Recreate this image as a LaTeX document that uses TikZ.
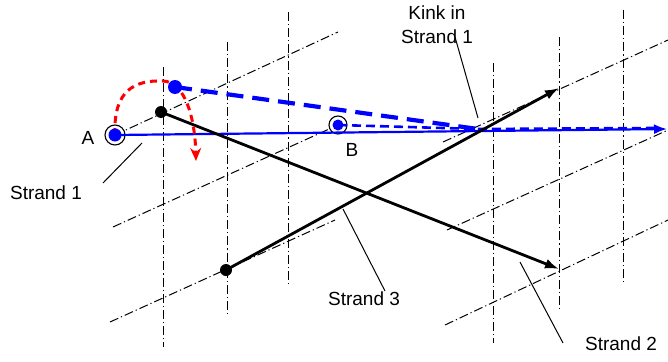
\documentclass[tikz,border=0pt]{standalone}
\usepackage{fontspec}
\setmainfont{Liberation Sans}
\usetikzlibrary{arrows.meta}

\tikzset{
  gridline/.style={line width=1pt, dash pattern=on 9pt off 3pt on 1.2pt off 3pt},
  strand/.style={line width=2.8pt, -{Latex[length=14pt,width=10pt]}},
  leader/.style={line width=1pt},
  lbl/.style={font=\fontsize{19}{24}\selectfont, inner sep=0pt},
}

\begin{document}
\begin{tikzpicture}[x=1pt, y=-1pt]
\useasboundingbox (0,0) rectangle (668,361);

\foreach \x/\t/\b in {163/67/347, 227/42/315, 288/12/287, 493/63/343, 559/37/312, 623/10/285}
  \draw[gridline] (\x,\t) -- (\x,\b);
\foreach \xa/\ya/\xb/\yb in {115/135/338/32, 113/227/338/125, 110/322/335/220,
                             443/142/668/40, 447/230/668/130, 445/325/668/220}
  \draw[gridline] (\xa,\ya) -- (\xb,\yb);

\coordinate (A) at (115,135);
\coordinate (B) at (338,125);
\coordinate (P) at (175,87);
\coordinate (kink) at (478,129);
\coordinate (dashend) at (655,128);
\coordinate (s1end) at (667,129);
\coordinate (s2start) at (161,112);
\coordinate (s2end) at (559,269);
\coordinate (s3start) at (226,270);
\coordinate (s3end) at (559,88);
\coordinate (redtop) at (163,81);
\coordinate (redend) at (196,161);

\draw[line width=1.1pt, fill=white] (A) circle (10pt);
\draw[line width=1.1pt, fill=white] (B) circle (9pt);

\draw[blue, line width=2.2pt, -{Latex[length=13pt,width=10pt]}] (A) -- (s1end);
\draw[blue, line width=2.6pt, dash pattern=on 9pt off 5pt] (B) -- (kink) -- (dashend);
\draw[blue, line width=4.2pt, dash pattern=on 17pt off 9pt] (P) -- (kink);

\draw[strand] (s2start) -- (s2end);
\draw[strand] (s3start) -- (s3end);

\draw[red, line width=3pt, dash pattern=on 7pt off 5pt, -{Stealth[length=13pt,width=11pt]}]
  (A) .. controls (113,90) and (135,80) .. (redtop) .. controls (186,82) and (195,120) .. (redend);

\fill[blue] (A) circle (6.5pt);
\fill[blue] (B) circle (5.5pt);
\fill[blue] (P) circle (7pt);
\fill (s2start) circle (6pt);
\fill (s3start) circle (6pt);

\node[lbl] (labA) at (88,138) {A};
\node[lbl] (labB) at (352,150) {B};
\node[lbl, align=center] (labkink) at (437,25) {Kink in\\Strand 1};
\node[lbl] (lab1) at (46,193) {Strand 1};
\node[lbl] (lab3) at (364,299) {Strand 3};
\node[lbl] (lab2) at (621,344) {Strand 2};

\coordinate (k1) at (455,37);
\coordinate (k2) at (478,118);
\coordinate (a1) at (103,183);
\coordinate (a2) at (142,143);
\coordinate (c1) at (385,291);
\coordinate (c2) at (343,209);
\coordinate (b1) at (563,343);
\coordinate (b2) at (520,262);

\draw[leader] (k1) -- (k2);
\draw[leader] (a1) -- (a2);
\draw[leader] (c1) -- (c2);
\draw[leader] (b1) -- (b2);
\end{tikzpicture}
\end{document}
